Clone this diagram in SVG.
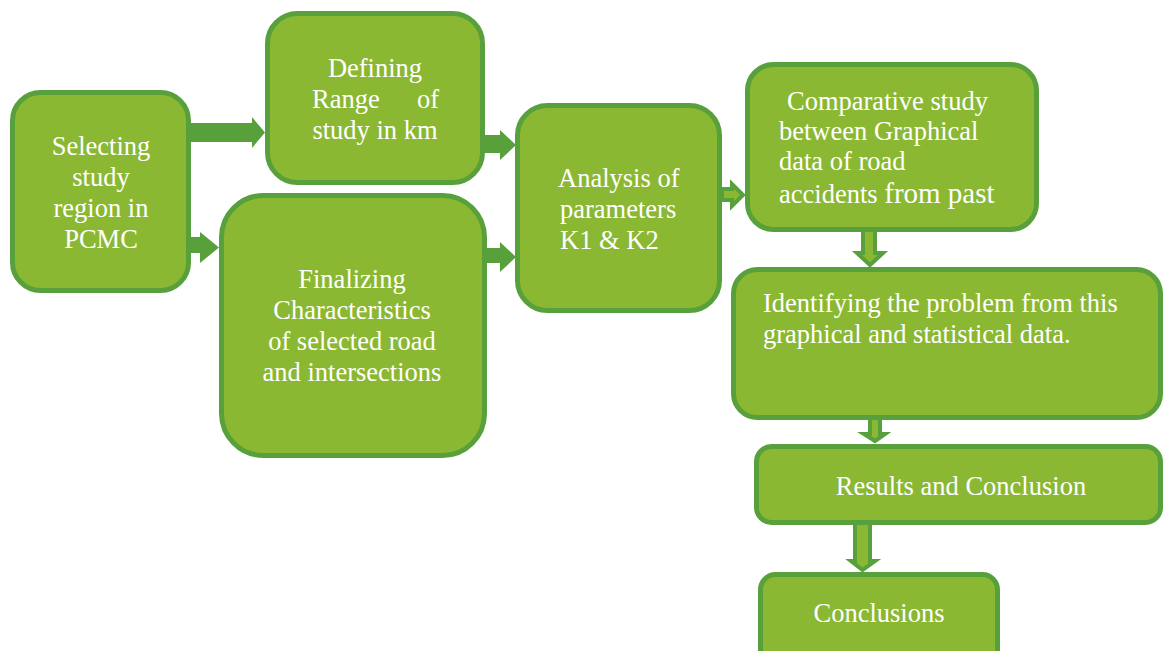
<svg xmlns="http://www.w3.org/2000/svg" width="1164" height="651" viewBox="0 0 1164 651">
<style>
.box{fill:#8bb833;stroke:#58a03b;stroke-width:5}
.t{font-family:"Liberation Serif","Times New Roman",serif;font-size:26.5px;fill:#ffffff}
.c{text-anchor:middle}
.solid{fill:#58a03b}
.hollow{fill:#8bb833;stroke:#58a03b;stroke-width:4;stroke-linejoin:miter}
</style>
<rect width="1164" height="651" fill="#ffffff"/>
<g id="connectors">
<path class="solid" d="M189,123 H252 V117 L265,132.5 L252,148 V142 H189 Z"/>
<path class="solid" d="M189,237 H200 V232 L219,247.5 L200,263 V253 H189 Z"/>
<path class="solid" d="M482,135 H500 V130 L516,145 L500,160 V153 H482 Z"/>
<path class="solid" d="M485,248 H500 V242 L516,257 L500,272 V263 H485 Z"/>
<path class="hollow" d="M722,189 H732 V184 L743,195 L732,206 V200 H722 Z"/>
<path class="hollow" d="M863,232 V253 H857 L870,265 L883,253 H875 V232"/>
<path class="hollow" d="M870,420 V434 H864 L875,441 L885,434 H880 V420"/>
<path class="hollow" d="M855,525 V561 H851 L862.5,570 L875,561 H870 V525"/>
</g>
<g id="n1">
<rect class="box" x="12.5" y="92.5" width="176" height="198" rx="28"/>
<text class="t c" x="101" y="155">Selecting</text>
<text class="t c" x="101" y="186">study</text>
<text class="t c" x="101" y="217">region in</text>
<text class="t c" x="101" y="248">PCMC</text>
</g>
<g id="n2">
<rect class="box" x="267.5" y="13.5" width="215" height="169" rx="30"/>
<text class="t c" x="375" y="77">Defining</text>
<text class="t" x="312" y="108">Range</text>
<text class="t" x="417" y="108">of</text>
<text class="t c" x="375" y="139">study in km</text>
</g>
<g id="n3">
<rect class="box" x="221.5" y="195.5" width="263" height="260" rx="42"/>
<text class="t c" x="352" y="288">Finalizing</text>
<text class="t c" x="352" y="319">Characteristics</text>
<text class="t c" x="352" y="350">of selected road</text>
<text class="t c" x="352" y="381">and intersections</text>
</g>
<g id="n4">
<rect class="box" x="517.5" y="105.5" width="202" height="205" rx="30"/>
<text class="t" x="558" y="187">Analysis of</text>
<text class="t" x="560" y="218">parameters</text>
<text class="t" x="560" y="249">K1 &amp; K2</text>
</g>
<g id="n5">
<rect class="box" x="747.5" y="64.5" width="289" height="165" rx="26"/>
<text class="t" x="787" y="110">Comparative study</text>
<text class="t" x="779" y="140">between Graphical</text>
<text class="t" x="779" y="170">data of road</text>
<text class="t" x="779" y="203">accidents <tspan font-size="29">from past</tspan></text>
</g>
<g id="n6">
<rect class="box" x="733.5" y="269.5" width="427" height="148" rx="24"/>
<text class="t" x="763" y="312">Identifying the problem from this</text>
<text class="t" x="763" y="343">graphical and statistical data.</text>
</g>
<g id="n7">
<rect class="box" x="756.5" y="446.5" width="404" height="76" rx="15"/>
<text class="t c" x="961" y="495">Results and Conclusion</text>
</g>
<g id="n8">
<rect class="box" x="760.5" y="574.5" width="237" height="90" rx="15"/>
<text class="t c" x="879" y="622">Conclusions</text>
</g>
</svg>
